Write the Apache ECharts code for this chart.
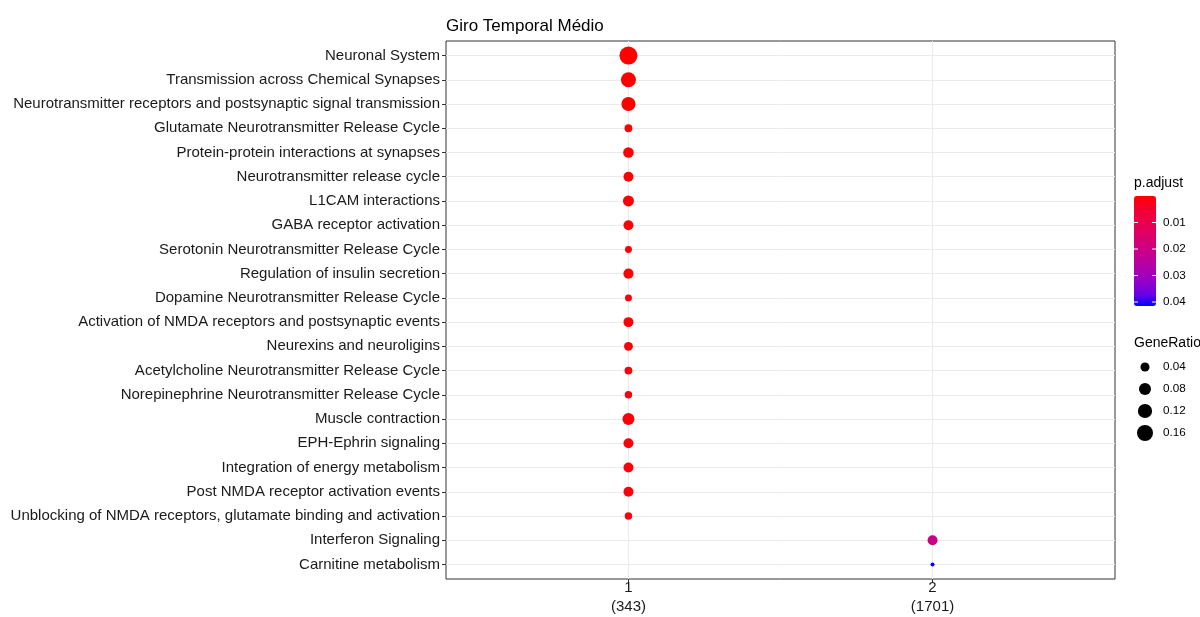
<!DOCTYPE html>
<html>
<head>
<meta charset="utf-8">
<script src="https://cdn.jsdelivr.net/npm/echarts@6/dist/echarts.min.js"></script>
<style>
  html, body { margin: 0; padding: 0; background: #fff; }
  #chart { width: 1200px; height: 617px; }
</style>
</head>
<body>
<div id="chart"></div>
<script>
// Reactome pathways, top to bottom
const pathways = [
  'Neuronal System',
  'Transmission across Chemical Synapses',
  'Neurotransmitter receptors and postsynaptic signal transmission',
  'Glutamate Neurotransmitter Release Cycle',
  'Protein-protein interactions at synapses',
  'Neurotransmitter release cycle',
  'L1CAM interactions',
  'GABA receptor activation',
  'Serotonin Neurotransmitter Release Cycle',
  'Regulation of insulin secretion',
  'Dopamine Neurotransmitter Release Cycle',
  'Activation of NMDA receptors and postsynaptic events',
  'Neurexins and neuroligins',
  'Acetylcholine Neurotransmitter Release Cycle',
  'Norepinephrine Neurotransmitter Release Cycle',
  'Muscle contraction',
  'EPH-Ephrin signaling',
  'Integration of energy metabolism',
  'Post NMDA receptor activation events',
  'Unblocking of NMDA receptors, glutamate binding and activation',
  'Interferon Signaling',
  'Carnitine metabolism'
]
const clusterNames = ['1', '2']
const clusterSizes = [343, 1701]
// cluster index (1-based) of each pathway
const pathwayCluster = [1, 1, 1, 1, 1, 1, 1, 1, 1, 1, 1, 1, 1, 1, 1, 1, 1, 1, 1, 1, 2, 2]
const geneRatio = [0.213, 0.137, 0.117, 0.029, 0.058, 0.050, 0.064, 0.050, 0.023, 0.052, 0.023,
  0.050, 0.038, 0.029, 0.026, 0.079, 0.050, 0.050, 0.050, 0.026, 0.050, 0.014]
const pAdjust = [1.2e-9, 3.5e-8, 2.1e-7, 4.0e-4, 1.5e-4, 2.2e-4, 3.0e-4, 5.1e-4, 9.0e-4, 6.0e-4, 1.1e-3,
  7.0e-4, 1.2e-3, 1.3e-3, 1.4e-3, 8.0e-4, 1.0e-3, 1.0e-3, 1.1e-3, 1.5e-3, 0.0205, 0.0415]
const colorBreaks = [0.01, 0.02, 0.03, 0.04]
const sizeBreaks = [0.04, 0.08, 0.12, 0.16]

const rMin = Math.min(...geneRatio)
const rMax = Math.max(...geneRatio)
const pMin = Math.min(...pAdjust)
const pMax = Math.max(...pAdjust)

// ggplot-like area scale: size 1..6, converted to px diameter
function sizeFor (v) {
  const t = Math.max(0, (v - rMin) / (rMax - rMin))
  const s = 1 + 5 * Math.sqrt(t)
  return 2.8 * (s + 0.43)
}

// red -> blue gradient interpolated in CIELAB (like scales::seq_gradient_pal)
function lab2hex (L, a, b) {
  const fy = (L + 16) / 116
  const fx = fy + a / 500
  const fz = fy - b / 200
  const finv = t => (t * t * t > 0.008856 ? t * t * t : (t - 16 / 116) / 7.787)
  const X = 0.95047 * finv(fx)
  const Y = finv(fy)
  const Z = 1.08883 * finv(fz)
  const lin = [
    3.2406 * X - 1.5372 * Y - 0.4986 * Z,
    -0.9689 * X + 1.8758 * Y + 0.0415 * Z,
    0.0557 * X - 0.2040 * Y + 1.0570 * Z
  ]
  return '#' + lin.map(c => {
    c = c <= 0.0031308 ? 12.92 * c : 1.055 * Math.pow(c, 1 / 2.4) - 0.055
    c = Math.round(Math.min(1, Math.max(0, c)) * 255)
    return c.toString(16).padStart(2, '0')
  }).join('')
}
const labRed = [53.2408, 80.0925, 67.2032]
const labBlue = [32.2970, 79.1875, -107.8602]
const rampColors = []
for (let i = 0; i <= 10; i++) {
  const t = i / 10
  rampColors.push(lab2hex(
    labRed[0] + (labBlue[0] - labRed[0]) * t,
    labRed[1] + (labBlue[1] - labRed[1]) * t,
    labRed[2] + (labBlue[2] - labRed[2]) * t
  ))
}

const seriesData = pathways.map((name, i) => [pathwayCluster[i], i + 1, geneRatio[i], pAdjust[i], name])

// legend geometry
const font = '"Liberation Sans", Arial, sans-serif'
const barLeft = 1134
const barTop = 196
const barW = 22
const barH = 110
const legendGraphics = []
legendGraphics.push({
  type: 'text', left: barLeft, top: 176,
  style: { text: 'p.adjust', font: '14px ' + font, fill: '#000' }
})
colorBreaks.forEach(v => {
  const y = barTop + (v - pMin) / (pMax - pMin) * barH
  legendGraphics.push({
    type: 'line', z: 100,
    shape: { x1: barLeft, y1: y, x2: barLeft + 4, y2: y },
    style: { stroke: '#fff', lineWidth: 1 }
  })
  legendGraphics.push({
    type: 'line', z: 100,
    shape: { x1: barLeft + barW - 4, y1: y, x2: barLeft + barW, y2: y },
    style: { stroke: '#fff', lineWidth: 1 }
  })
  legendGraphics.push({
    type: 'text', z: 100, x: barLeft + barW + 7, y: y,
    style: {
      text: v.toFixed(2), font: '11.7px ' + font,
      fill: '#000', verticalAlign: 'middle'
    }
  })
})
legendGraphics.push({
  type: 'text', left: barLeft, top: 336,
  style: { text: 'GeneRatio', font: '14px ' + font, fill: '#000' }
})
sizeBreaks.forEach((v, i) => {
  const cy = 367 + i * 22
  legendGraphics.push({
    type: 'circle',
    shape: { cx: 1145, cy: cy, r: sizeFor(v) / 2 },
    style: { fill: '#000' }
  })
  legendGraphics.push({
    type: 'text', x: barLeft + barW + 7, y: cy,
    style: {
      text: v.toFixed(2), font: '11.7px ' + font,
      fill: '#000', verticalAlign: 'middle'
    }
  })
})

const chart = echarts.init(document.getElementById('chart'))
chart.setOption({
  animation: false,
  textStyle: { fontFamily: font },
  title: {
    text: 'Giro Temporal Médio',
    left: 441,
    top: 13,
    textStyle: { fontSize: 17, fontWeight: 'normal', color: '#000' }
  },
  grid: {
    left: 446,
    top: 41,
    right: 85,
    bottom: 38,
    show: true,
    borderColor: '#333',
    borderWidth: 1,
    backgroundColor: '#fff'
  },
  xAxis: {
    type: 'value',
    min: 0.4,
    max: 2.6,
    axisLine: { show: false },
    splitLine: { show: false },
    axisTick: {
      show: true,
      length: 4,
      customValues: clusterNames.map((c, i) => i + 1),
      lineStyle: { color: '#333' }
    },
    axisLabel: {
      customValues: clusterNames.map((c, i) => i + 1),
      margin: -1,
      fontSize: 15,
      lineHeight: 19,
      color: '#1a1a1a',
      formatter: v => {
        const i = Math.round(v) - 1
        return clusterNames[i] + '\n(' + clusterSizes[i] + ')'
      }
    }
  },
  yAxis: {
    type: 'value',
    min: 0.4,
    max: pathways.length + 0.6,
    inverse: true,
    axisLine: { show: false },
    splitLine: { show: false },
    axisTick: {
      show: true,
      length: 4,
      customValues: pathways.map((p, i) => i + 1),
      lineStyle: { color: '#333' }
    },
    axisLabel: {
      customValues: pathways.map((p, i) => i + 1),
      margin: 6,
      fontSize: 15,
      color: '#1a1a1a',
      formatter: v => pathways[Math.round(v) - 1]
    }
  },
  visualMap: {
    type: 'continuous',
    dimension: 3,
    seriesIndex: 1,
    min: pMin,
    max: pMax,
    inverse: true,
    calculable: false,
    hoverLink: false,
    left: barLeft,
    top: barTop,
    padding: 0,
    itemWidth: barW,
    itemHeight: barH,
    inRange: { color: rampColors }
  },
  graphic: legendGraphics,
  series: [
    {
      // panel grid lines
      type: 'scatter',
      data: [],
      silent: true,
      z: 1,
      markLine: {
        silent: true,
        z: 1,
        symbol: 'none',
        label: { show: false },
        lineStyle: { color: '#ebebeb', width: 1, type: 'solid' },
        data: pathways.map((p, i) => ({ yAxis: i + 1 }))
          .concat(clusterNames.map((c, i) => ({ xAxis: i + 1 })))
      }
    },
    {
      type: 'scatter',
      z: 5,
      zlevel: 1,
      data: seriesData,
      itemStyle: { opacity: 1 },
      symbolSize: val => sizeFor(val[2])
    }
  ]
})
</script>
</body>
</html>
